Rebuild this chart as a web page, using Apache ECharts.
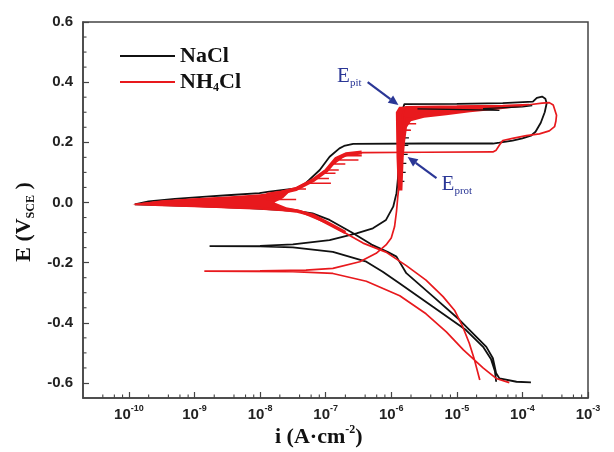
<!DOCTYPE html>
<html>
<head>
<meta charset="utf-8">
<script src="https://cdn.jsdelivr.net/npm/echarts@6/dist/echarts.min.js"></script>
<style>html,body{margin:0;padding:0;background:#fff}#c{width:614px;height:452px}</style>
</head>
<body>
<div id="c"></div>
<script>
// ---- data: [log10(i / A·cm^-2), E / V_SCE] ----
const majorExps = [-10, -9, -8, -7, -6, -5, -4, -3];
const minorFactors = [2, 4, 6, 8];
const yTickLabels = [-0.6, -0.4, -0.2, 0.0, 0.2, 0.4, 0.6];

const naclCurve = [
  [-4.40,-0.596],[-4.42,-0.56],[-4.48,-0.52],[-4.60,-0.48],[-4.86,-0.424],[-5.37,-0.346],[-5.87,-0.269],
  [-6.13,-0.23],[-6.38,-0.197],[-6.89,-0.164],[-7.5,-0.149],[-8.0,-0.146],[-8.77,-0.145],
  [-8.0,-0.144],[-7.5,-0.139],[-6.94,-0.125],[-6.53,-0.103],[-6.28,-0.086],[-6.08,-0.058],[-5.97,-0.014],
  [-5.92,0.031],[-5.90,0.075],[-5.88,0.15],[-5.86,0.25],[-5.84,0.30],[-5.80,0.327],[-5.0,0.328],
  [-4.3,0.330],[-3.84,0.335],[-3.78,0.348],[-3.70,0.352],[-3.65,0.345],[-3.63,0.33],[-3.66,0.30],
  [-3.72,0.265],[-3.80,0.235],[-3.87,0.222],[-4.0,0.213],[-4.15,0.206],[-4.35,0.199],[-4.45,0.196],
  [-5.5,0.196],[-6.58,0.195],[-6.72,0.188],[-6.79,0.18],[-6.94,0.152],[-7.09,0.108],[-7.3,0.065],
  [-7.45,0.047],[-7.86,0.036],[-8.01,0.031],[-8.5,0.024],[-8.77,0.02],[-9.3,0.012],[-9.7,0.004],
  [-9.91,-0.006],[-9.5,-0.009],[-8.92,-0.012],[-8.16,-0.019],[-7.45,-0.028],[-7.2,-0.036],[-6.94,-0.058],
  [-6.6,-0.1],[-6.3,-0.14],[-6.05,-0.165],[-5.92,-0.18],[-5.77,-0.235],[-5.36,-0.313],[-4.96,-0.39],
  [-4.55,-0.48],[-4.45,-0.518],[-4.40,-0.568],[-4.35,-0.585],[-4.09,-0.596],[-3.87,-0.598]
];
const naclSpikes = [
  [-5.80,0.24],[-5.71,0.24],[-5.80,0.24],[-5.81,0.215],[-5.73,0.215],[-5.81,0.215],[-5.82,0.19],[-5.74,0.19],
  [-5.82,0.19],[-5.83,0.16],[-5.75,0.16],[-5.83,0.16],[-5.84,0.13],[-5.77,0.13],[-5.84,0.13],[-5.85,0.10],
  [-5.78,0.10],[-5.85,0.10],[-5.86,0.07],[-5.80,0.07]
];
const naclPlateauNoise = [
  [-5.6,0.311],[-4.9,0.309],[-4.5,0.307],[-4.35,0.306],[-4.6,0.312],[-4.0,0.318],[-3.85,0.322]
];
const nh4clCurve = [
  [-4.20,-0.599],[-4.4,-0.585],[-4.6,-0.55],[-4.9,-0.49],[-5.16,-0.43],[-5.47,-0.37],[-5.87,-0.31],
  [-6.38,-0.262],[-6.89,-0.236],[-7.5,-0.230],[-8.85,-0.228],
  [-8.0,-0.227],[-7.3,-0.225],[-6.89,-0.219],[-6.48,-0.197],[-6.23,-0.169],[-6.08,-0.141],[-6.0,-0.118],
  [-5.95,-0.081],[-5.92,-0.03],[-5.90,0.02],[-5.87,0.075],[-5.85,0.185],[-5.84,0.25],[-5.83,0.29],
  [-5.80,0.31],[-5.78,0.318],[-5.0,0.320],[-4.3,0.322],[-3.9,0.325],[-3.7,0.33],[-3.59,0.332],
  [-3.53,0.324],[-3.48,0.29],[-3.49,0.27],[-3.51,0.252],[-3.59,0.238],[-3.74,0.228],[-3.94,0.222],
  [-4.15,0.213],[-4.30,0.206],[-4.35,0.191],[-4.40,0.174],[-4.45,0.168],[-5.5,0.167],[-6.43,0.166],
  [-6.69,0.162],[-6.84,0.147],[-6.99,0.108],[-7.2,0.075],[-7.45,0.047],[-7.96,0.022],[-8.46,0.015],
  [-9.0,0.01],[-9.5,0.003],[-9.91,-0.006],[-9.5,-0.01],[-9.0,-0.013],[-8.46,-0.016],[-7.96,-0.018],
  [-7.45,-0.026],[-6.94,-0.072],[-6.43,-0.135],[-6.08,-0.165],[-5.77,-0.21],[-5.47,-0.258],
  [-5.21,-0.313],[-5.03,-0.36],[-4.91,-0.413],[-4.81,-0.468],[-4.73,-0.524],[-4.65,-0.59]
];
const nh4clThick = [
  [-6.45,0.166],[-6.69,0.160],[-6.84,0.145],[-6.99,0.106],[-7.2,0.073],[-7.45,0.045],[-7.7,0.032],
  [-7.9,0.026]
];
const nh4clThickLower = [
  [-7.75,-0.02],[-7.45,-0.028],[-7.2,-0.042],[-6.94,-0.072],[-6.7,-0.10]
];
const nh4clLowBand = [
  [-9.95,-0.006],[-9.5,0.007],[-9.0,0.014],[-8.5,0.02],[-8.0,0.027],[-7.8,0.033],[-7.6,0.04],
  [-7.5,0.046],[-7.65,0.014],[-7.78,0.0],[-7.6,-0.016],[-7.4,-0.024],[-7.3,-0.032],[-7.6,-0.03],
  [-8.0,-0.024],[-8.5,-0.02],[-9.0,-0.015],[-9.5,-0.011],[-9.95,-0.006]
];
const nh4clPlateauBand = [
  [-5.90,0.04],[-5.92,0.15],[-5.93,0.30],[-5.88,0.318],[-5.5,0.320],[-5.0,0.321],[-4.5,0.323],
  [-4.0,0.325],[-3.8,0.327],[-4.0,0.318],[-4.4,0.308],[-4.8,0.300],[-5.16,0.29],[-5.5,0.282],
  [-5.7,0.27],[-5.76,0.25],[-5.79,0.20],[-5.81,0.15],[-5.83,0.04]
];
const nh4clSpikes = [
  [-6.72,0.155],[-6.45,0.155],[-6.72,0.155],[-6.80,0.141],[-6.50,0.141],[-6.80,0.141],[-6.88,0.128],
  [-6.70,0.128],[-6.88,0.128],[-6.99,0.108],[-6.80,0.108],[-6.99,0.108],[-7.05,0.097],[-6.85,0.097],
  [-7.05,0.097],[-7.15,0.080],[-6.95,0.080],[-7.15,0.080],[-7.28,0.064],[-6.92,0.064],[-7.28,0.064],
  [-7.45,0.045],[-7.30,0.045],[-7.45,0.045],[-7.9,0.010],[-7.45,0.010],[-7.9,0.010]
];
const nh4clPlateauSpikes = [
  [-5.80,0.285],[-5.55,0.285],[-5.80,0.285],[-5.80,0.262],[-5.62,0.262],[-5.80,0.262],[-5.82,0.24],
  [-5.70,0.24]
];
// annotation anchors [log10 i, E]
const pitArrow = [[-6.36,0.40],[-5.89,0.324]];
const protArrow = [[-5.31,0.081],[-5.75,0.151]];
const pitLabelAt = [-6.64,0.42];
const protLabelAt = [-5.0,0.061];

const X_MIN = -10.7, X_MAX = -3, Y_MIN = -0.65, Y_MAX = 0.6;
const RED = '#e8191d', BLACK = '#111111', BLUE = '#2b3796', AX = '#444';
const minorX = [];
for (let n = -11; n <= -4; n++) for (const k of minorFactors) {
  const v = n + Math.log10(k);
  if (v > -10.69 && v < -3) minorX.push([v, Y_MIN]);
}
const minorY = [];
for (let i = -12; i <= 11; i++) { const v = +(i * 0.05).toFixed(2); if (Math.abs(Math.round(v * 100)) % 20 !== 0) minorY.push([X_MIN, v]); }

function polygonSeries(name, data, color) {
  return {
    name, type: 'custom', data, encode: {x: 0, y: 1}, silent: true, z: 3,
    itemStyle: {color},
    renderItem: function (params, api) {
      if (params.dataIndex !== 0) return null;
      return {type: 'polygon', shape: {points: data.map(p => api.coord(p))}, style: {fill: color}};
    }
  };
}
function lineSeries(name, data, color, width, z) {
  return {name, type: 'line', data, showSymbol: false, symbol: 'none', z: z || 3,
    lineStyle: {color, width}, itemStyle: {color}, silent: true};
}
function arrowSeries(data) {
  return {type: 'custom', data, encode: {x: 0, y: 1}, silent: true, z: 6,
    renderItem: function (params, api) {
      if (params.dataIndex !== 0) return null;
      const a = api.coord(data[0]), b = api.coord(data[1]);
      const ang = Math.atan2(b[1] - a[1], b[0] - a[0]);
      const L = 10, W = 4.5;
      const bx = b[0] - L * Math.cos(ang), by = b[1] - L * Math.sin(ang);
      const nx = -Math.sin(ang) * W, ny = Math.cos(ang) * W;
      return {type: 'group', children: [
        {type: 'line', shape: {x1: a[0], y1: a[1], x2: bx, y2: by}, style: {stroke: BLUE, lineWidth: 2.2}},
        {type: 'polygon', shape: {points: [b, [bx + nx, by + ny], [bx - nx, by - ny]]}, style: {fill: BLUE}}
      ]};
    }};
}
function minorTickSeries(data, horizontal) {
  return {type: 'custom', data, encode: {x: 0, y: 1}, silent: true, z: 7, clip: false,
    renderItem: function (params, api) {
      const p = api.coord([api.value(0), api.value(1)]);
      const len = 3.5;
      const shape = horizontal ? {x1: p[0], y1: p[1], x2: p[0] + len, y2: p[1]} : {x1: p[0], y1: p[1], x2: p[0], y2: p[1] - len};
      return {type: 'line', shape, style: {stroke: AX, lineWidth: 1.1}};
    }};
}

const chart = echarts.init(document.getElementById('c'), null, {renderer: 'canvas'});
const serifBold = {fontFamily: 'Liberation Serif', fontWeight: 'bold'};
chart.setOption({
  animation: false,
  backgroundColor: '#fff',
  grid: {left: 83, top: 22, right: 26, bottom: 54, show: true, borderColor: AX, borderWidth: 1.5, backgroundColor: 'transparent'},
  legend: {
    data: ['NaCl', 'NH4Cl'], orient: 'vertical', left: 115, top: 40, itemWidth: 55, itemHeight: 2, itemGap: 4,
    icon: 'rect', selectedMode: false,
    formatter: n => n === 'NH4Cl' ? '{a|NH}{s|4}{a|Cl}' : '{a|NaCl}',
    textStyle: {color: '#111', rich: {
      a: Object.assign({fontSize: 22, lineHeight: 24, color: '#111'}, serifBold),
      s: Object.assign({fontSize: 12, lineHeight: 12, verticalAlign: 'bottom', color: '#111'}, serifBold)
    }}
  },
  xAxis: {
    type: 'value', min: X_MIN, max: X_MAX, position: 'bottom',
    axisLine: {show: true, onZero: false, lineStyle: {color: AX, width: 1.5}},
    axisTick: {show: true, inside: true, length: 6, customValues: majorExps, lineStyle: {color: AX, width: 1.2}},
    axisLabel: {customValues: majorExps, margin: 6, formatter: v => '{b|10}{s|' + Math.round(v) + '}',
      rich: {
        b: {fontSize: 15, fontWeight: 'bold', fontFamily: 'Liberation Sans', color: '#222', lineHeight: 18, verticalAlign: 'bottom'},
        s: {fontSize: 9, fontWeight: 'bold', fontFamily: 'Liberation Sans', color: '#222', lineHeight: 10, verticalAlign: 'top'}
      }},
    splitLine: {show: false}
  },
  yAxis: {
    type: 'value', min: Y_MIN, max: Y_MAX, position: 'left',
    axisLine: {show: true, onZero: false, lineStyle: {color: AX, width: 1.5}},
    axisTick: {show: true, inside: true, length: 6, customValues: yTickLabels, lineStyle: {color: AX, width: 1.2}},
    axisLabel: {customValues: yTickLabels, margin: 10, formatter: v => v.toFixed(1),
      fontSize: 15, fontWeight: 'bold', fontFamily: 'Liberation Sans', color: '#222'},
    splitLine: {show: false}
  },
  graphic: [
    {type: 'text', left: 275, top: 424, style: {text: '{a|i (A·cm}{p|-2}{a|)}', rich: {
      a: Object.assign({fontSize: 22, lineHeight: 26, fill: '#111'}, serifBold),
      p: Object.assign({fontSize: 12, lineHeight: 12, verticalAlign: 'top', fill: '#111'}, serifBold)}}},
    {type: 'text', x: 24, y: 222, rotation: Math.PI / 2, style: {text: '{a|E (V}{s|SCE}{a| )}', align: 'center', verticalAlign: 'middle', rich: {
      a: Object.assign({fontSize: 22, lineHeight: 26, fill: '#111'}, serifBold),
      s: Object.assign({fontSize: 12, lineHeight: 12, verticalAlign: 'bottom', fill: '#111'}, serifBold)}}}
  ],
  series: [
    lineSeries('NaCl', naclCurve, BLACK, 1.8, 2),
    lineSeries('NaCl', naclSpikes, BLACK, 1.2, 2),
    polygonSeries('NH4Cl', nh4clLowBand, RED),
    polygonSeries('NH4Cl', nh4clPlateauBand, RED),
    Object.assign(lineSeries('NH4Cl', nh4clCurve, RED, 1.7, 3), {
      markPoint: {silent: true, symbol: 'circle', symbolSize: 0,
        label: {show: true, position: 'inside', rich: {
          e: {fontSize: 21, lineHeight: 24, color: BLUE, fontFamily: 'Liberation Serif'},
          s: {fontSize: 11, lineHeight: 12, verticalAlign: 'bottom', color: BLUE, fontFamily: 'Liberation Serif'}}},
        data: [{coord: pitLabelAt, label: {formatter: '{e|E}{s|pit}'}}, {coord: protLabelAt, label: {formatter: '{e|E}{s|prot}'}}]}
    }),
    lineSeries('NH4Cl', nh4clThick, RED, 4, 3),
    lineSeries('NH4Cl', nh4clThickLower, RED, 3.5, 3),
    lineSeries('NH4Cl', nh4clSpikes, RED, 1.5, 3),
    lineSeries('NH4Cl', nh4clPlateauSpikes, RED, 1.5, 3),
    lineSeries('NaCl', naclPlateauNoise, BLACK, 1.2, 4),
    arrowSeries(pitArrow),
    arrowSeries(protArrow),
    minorTickSeries(minorX, false),
    minorTickSeries(minorY, true)
  ]
});
</script>
</body>
</html>
